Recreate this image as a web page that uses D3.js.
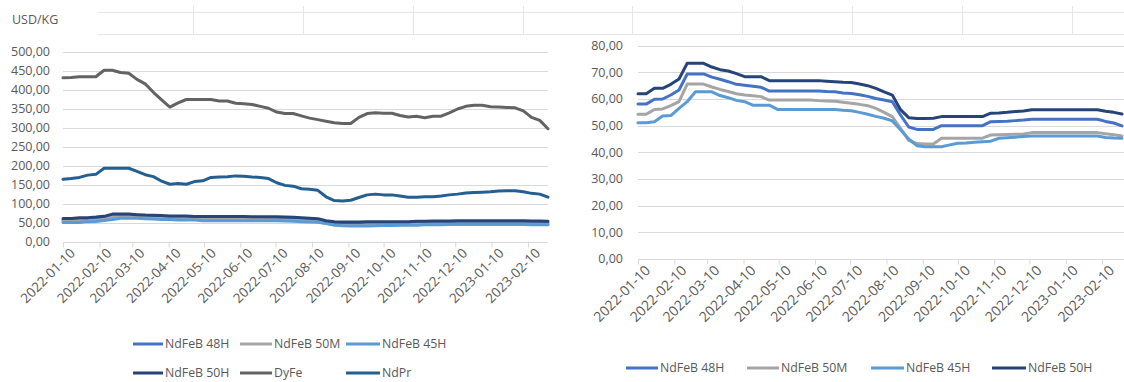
<!DOCTYPE html>
<html>
<head>
<meta charset="utf-8">
<script src="https://cdn.jsdelivr.net/npm/d3@7"></script>
<style>
  html, body { margin: 0; padding: 0; background: #fff; }
  svg { display: block; font-family: "Open Sans", "Noto Sans", sans-serif; }
</style>
</head>
<body>
<svg id="chart" width="1124" height="382"></svg>
<script>
// Weekly price observations, USD/KG
const weeks = [
  "2022-01-10","2022-01-17","2022-01-24","2022-01-31","2022-02-07","2022-02-14","2022-02-21","2022-02-28",
  "2022-03-07","2022-03-14","2022-03-21","2022-03-28","2022-04-04","2022-04-11","2022-04-18","2022-04-25",
  "2022-05-02","2022-05-09","2022-05-16","2022-05-23","2022-05-30","2022-06-06","2022-06-13","2022-06-20",
  "2022-06-27","2022-07-04","2022-07-11","2022-07-18","2022-07-25","2022-08-01","2022-08-08","2022-08-15",
  "2022-08-22","2022-08-29","2022-09-05","2022-09-12","2022-09-19","2022-09-26","2022-10-03","2022-10-10",
  "2022-10-17","2022-10-24","2022-10-31","2022-11-07","2022-11-14","2022-11-21","2022-11-28","2022-12-05",
  "2022-12-12","2022-12-19","2022-12-26","2023-01-02","2023-01-09","2023-01-16","2023-01-23","2023-01-30",
  "2023-02-06","2023-02-13","2023-02-20","2023-02-27"
];

const ndfeb48H = [58.1,58.1,59.9,60,61.5,63.4,69.4,69.4,69.4,68.2,67.4,66.5,65.5,65.2,64.8,64.4,
  63,63,63,63,63,63,63,62.8,62.7,62.3,62.1,61.6,61,60.2,59.6,59,
  54,49.5,48.6,48.6,48.6,50,50,50,50,50,50,51.5,51.6,51.7,51.9,52.1,
  52.4,52.4,52.4,52.4,52.4,52.4,52.4,52.4,52.4,51.6,51,49.9];
const ndfeb50M = [54.3,54.3,56.1,56.3,57.5,59,65.6,65.6,65.6,64.5,63.6,62.8,62,61.5,61.2,60.9,
  59.6,59.6,59.6,59.6,59.6,59.6,59.4,59.3,59.2,58.8,58.4,58,57.5,56.5,55,53.4,
  49,44.5,43.3,43.1,43.1,45.3,45.3,45.3,45.3,45.3,45.3,46.5,46.6,46.7,46.8,46.9,
  47.4,47.4,47.4,47.4,47.4,47.4,47.4,47.4,47.4,47,46.6,46.1];
const ndfeb45H = [51.1,51.1,51.5,53.6,53.8,56.5,59,62.7,62.7,62.7,61.3,60.5,59.5,59,57.7,57.7,
  57.7,56.1,56.1,56.1,56.1,56.1,56.1,56.1,56.1,55.8,55.6,55,54.3,53.5,52.8,51.8,
  48.5,45,42.5,42.1,42.1,42.1,42.8,43.4,43.5,43.8,44,44.2,45.3,45.5,45.7,45.9,
  46.1,46.1,46.1,46.1,46.1,46.1,46.1,46.1,46.1,45.6,45.4,45.3];
const ndfeb50H = [62,62,64,64,65.5,67.5,73.4,73.4,73.4,72,71,70.5,69.5,68.4,68.4,68.4,
  66.9,66.9,66.9,66.9,66.9,66.9,66.9,66.7,66.5,66.3,66.2,65.6,65,64,62.7,61.5,
  56,53,52.7,52.7,52.8,53.4,53.4,53.4,53.4,53.4,53.4,54.7,54.8,55,55.3,55.5,
  56,56,56,56,56,56,56,56,56,55.4,55,54.4];
const dyFe = [432,433,435,435,435,452,452,446,444,428,416,394,374,355,366,375,
  375,375,375,371,371,365,364,362,357,352,342,338,338,332,326,322,
  318,314,312,312,328,338,340,339,339,333,329,331,327,331,331,340,
  350,357,360,360,356,355,354,353,345,328,320,298];
const ndPr = [165,167,170,176,178,194,194,194,194,186,177,172,160,152,154,152,
  159,161,170,171,172,174,173,171,170,167,156,149,147,140,139,136,
  119,109,108,110,117,124,126,124,124,121,118,118,119,119,121,124,
  126,129,130,131,132,134,135,135,132,128,126,118];

const monthTicks = ["2022-01-10","2022-02-10","2022-03-10","2022-04-10","2022-05-10","2022-06-10",
  "2022-07-10","2022-08-10","2022-09-10","2022-10-10","2022-11-10","2022-12-10","2023-01-10","2023-02-10"];
const leftTicks = [0,50,100,150,200,250,300,350,400,450,500];
const rightTicks = [0,10,20,30,40,50,60,70,80];

const series = {
  "NdFeB 48H": { values: ndfeb48H, color: "#4472c4" },
  "NdFeB 50M": { values: ndfeb50M, color: "#a5a5a5" },
  "NdFeB 45H": { values: ndfeb45H, color: "#5b9bd5" },
  "NdFeB 50H": { values: ndfeb50H, color: "#264478" },
  "DyFe":      { values: dyFe,     color: "#636363" },
  "NdPr":      { values: ndPr,     color: "#255e91" }
};

const parse = d3.timeParse("%Y-%m-%d");
const dates = weeks.map(parse);
const tickDates = monthTicks.map(parse);
const fmtNum = v => d3.format(".2f")(v).replace(".", ",");
const fmtDate = d3.timeFormat("%Y-%m-%d");

const svg = d3.select("#chart");
const textColor = "#595959";
const gridColor = "#d9d9d9";

// Header strip with unit label
svg.append("text").attr("x", 12).attr("y", 24)
  .attr("font-size", 12.5).attr("fill", textColor).text("USD/KG");
const header = svg.append("g").attr("stroke", "#e6e6e6").attr("stroke-width", 1);
[12.5, 34.5].forEach(y => header.append("line").attr("x1", 98).attr("x2", 1124).attr("y1", y).attr("y2", y));
[193, 303, 413, 523, 632, 742, 852, 962, 1072].forEach(x =>
  header.append("line").attr("x1", x + 0.5).attr("x2", x + 0.5).attr("y1", 6).attr("y2", 35));

function drawPanel(cfg) {
  const x = d3.scaleTime().domain([dates[0], dates[dates.length - 1]]).range(cfg.xRange);
  const y = d3.scaleLinear().domain(cfg.yDomain).range(cfg.yRange);
  const g = svg.append("g");

  // Horizontal gridlines (the zero line doubles as the date axis)
  g.append("g").selectAll("line").data(cfg.yTicks).join("line")
    .attr("x1", cfg.xRange[0]).attr("x2", cfg.gridEnd)
    .attr("y1", d => Math.round(y(d)) + 0.5).attr("y2", d => Math.round(y(d)) + 0.5)
    .attr("stroke", gridColor).attr("stroke-width", 1);

  // Value labels
  g.append("g").selectAll("text").data(cfg.yTicks).join("text")
    .attr("x", cfg.labelX).attr("y", d => y(d)).attr("dy", "0.35em")
    .attr("text-anchor", "end").attr("font-size", 12.5).attr("fill", textColor)
    .text(fmtNum);

  // Date axis
  const axis = d3.axisBottom(x).tickValues(tickDates).tickSize(5).tickFormat(fmtDate);
  const ax = g.append("g").attr("transform", `translate(0,${Math.round(y(0)) + 0.5})`).call(axis);
  ax.select(".domain").remove();
  ax.selectAll(".tick line").attr("stroke", gridColor);
  ax.selectAll(".tick text")
    .attr("font-family", "Open Sans, Noto Sans, sans-serif")
    .attr("font-size", cfg.dateFont).attr("fill", textColor)
    .attr("text-anchor", "end")
    .attr("transform", "translate(5,4) rotate(-45)")
    .attr("x", 0).attr("y", 6).attr("dy", "0.35em");

  // Series lines
  const line = d3.line().x((d, i) => x(dates[i])).y(d => y(d)).curve(d3.curveLinear);
  cfg.keys.forEach(k => {
    g.append("path").datum(series[k].values)
      .attr("d", line).attr("fill", "none")
      .attr("stroke", series[k].color).attr("stroke-width", 3)
      .attr("stroke-linejoin", "round").attr("stroke-linecap", "round");
  });

  // Legend
  cfg.legend.forEach(item => {
    const lg = svg.append("g").attr("transform", `translate(${item.x},${item.y})`);
    lg.append("line").attr("x1", 0).attr("x2", item.w).attr("y1", 0).attr("y2", 0)
      .attr("stroke", series[item.key].color).attr("stroke-width", 3);
    lg.append("text").attr("x", item.w + 2).attr("y", 0).attr("dy", "0.35em")
      .attr("font-size", 12.3).attr("fill", textColor).text(item.key);
  });
}

drawPanel({
  xRange: [63, 548], gridEnd: 548, labelX: 50, dateFont: 13.5,
  yDomain: [0, 500], yRange: [242, 52], yTicks: leftTicks,
  keys: ["NdFeB 48H", "NdFeB 50M", "NdFeB 45H", "NdFeB 50H", "DyFe", "NdPr"],
  legend: [
    { key: "NdFeB 48H", x: 133, y: 344, w: 30 },
    { key: "NdFeB 50M", x: 240, y: 344, w: 32 },
    { key: "NdFeB 45H", x: 346, y: 344, w: 34 },
    { key: "NdFeB 50H", x: 133, y: 373, w: 30 },
    { key: "DyFe",      x: 240, y: 373, w: 32 },
    { key: "NdPr",      x: 346, y: 373, w: 34 }
  ]
});

drawPanel({
  xRange: [638, 1122], gridEnd: 1124, labelX: 623, dateFont: 14,
  yDomain: [0, 80], yRange: [259, 45.7], yTicks: rightTicks,
  keys: ["NdFeB 48H", "NdFeB 50M", "NdFeB 45H", "NdFeB 50H"],
  legend: [
    { key: "NdFeB 48H", x: 626, y: 368, w: 32 },
    { key: "NdFeB 50M", x: 747, y: 368, w: 32 },
    { key: "NdFeB 45H", x: 871, y: 368, w: 33 },
    { key: "NdFeB 50H", x: 992, y: 368, w: 34 }
  ]
});
</script>
</body>
</html>
